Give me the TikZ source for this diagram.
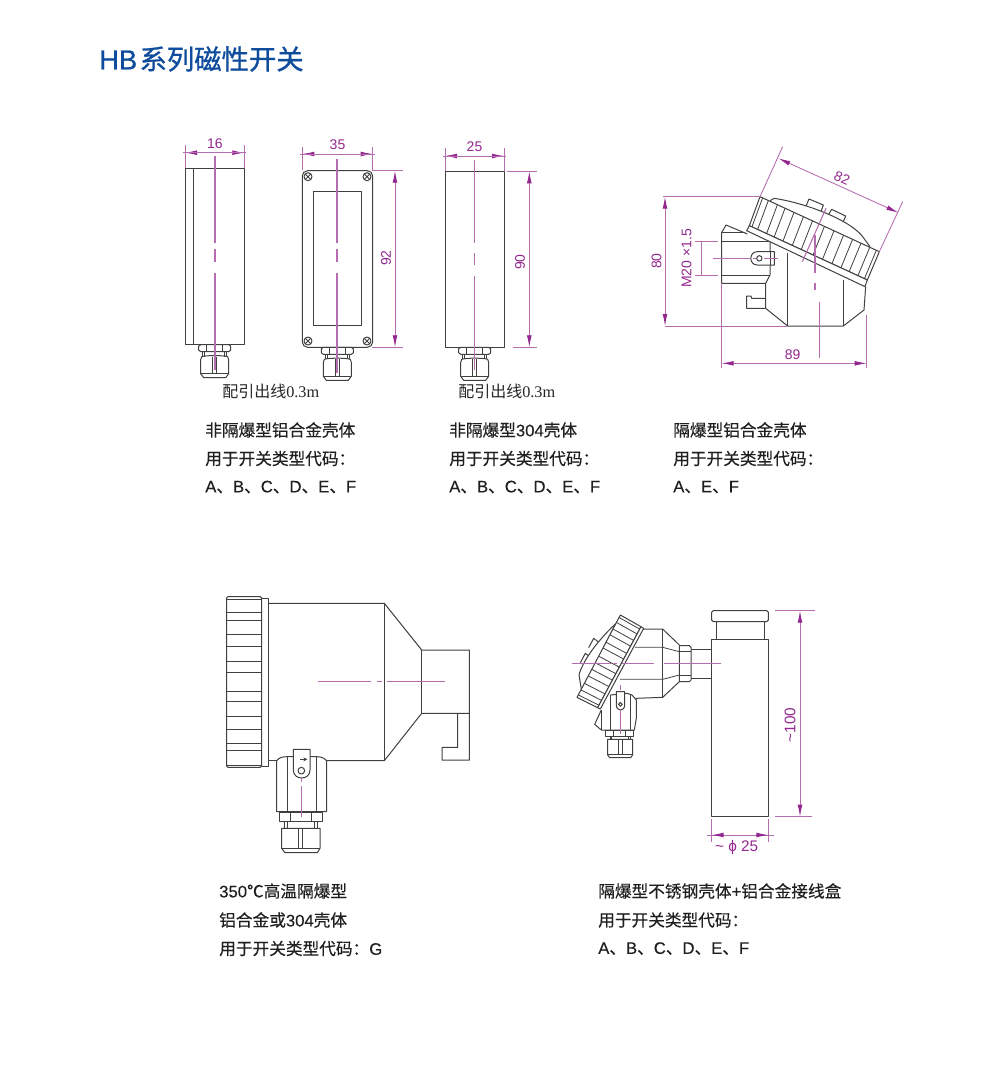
\documentclass[tikz,border=0pt]{standalone}
\usepackage{fontspec}
\setmainfont{Liberation Sans}
\newfontfamily\cjk{Noto Sans CJK SC}
\newfontfamily\cjkm[RawFeature={embolden=0.3}]{Noto Sans CJK SC}
\newfontfamily\cjkt[RawFeature={embolden=1.0}]{Noto Sans CJK SC}
\newfontfamily\latt[RawFeature={embolden=0.8}]{Liberation Sans}
\newfontfamily\latm[RawFeature={embolden=0.3}]{Liberation Sans}
\newfontfamily\srf{Liberation Serif}
\newcommand{\La}[1]{{\latm #1}}
\usetikzlibrary{arrows.meta,calc}
\definecolor{dimtext}{HTML}{93278F}
\definecolor{dimline}{HTML}{B66DB0}
\definecolor{titleblue}{HTML}{0F4C9C}
\definecolor{part}{HTML}{404040}
\tikzset{
  partline/.style={draw=part,line width=0.75pt,line join=round},
  thinpart/.style={draw=part,line width=0.6pt},
  centre/.style={draw=dimline,line width=0.8pt},
  extline/.style={draw=dimline,line width=0.65pt},
  dimarrow/.style={draw=dimline,line width=0.65pt,{Latex[length=9pt,width=3.6pt,color=dimtext]}-{Latex[length=9pt,width=3.6pt,color=dimtext]}},
  dimlabel/.style={text=dimtext,font=\fontsize{10.5}{12}\selectfont,inner sep=0pt},
  body/.style={anchor=west,inner sep=0pt,text=black!88,font=\cjkm\fontsize{12.5}{14}\selectfont},
  note/.style={anchor=west,inner sep=0pt,text=black!85},
  zoomed/.style={x=0.25pt,y=-0.25pt},
}
% cable gland: #1 centre x, #2 top y, in pixels
\newcommand{\gland}[2]{%
  \begin{scope}[shift={(#1,#2)}]
    \draw[partline] (-16,1.5) -- (-14,0) -- (14,0) -- (16,1.5) -- (16,5.5) -- (14,7) -- (-14,7) -- (-16,5.5) -- cycle;
    \draw[thinpart] (-8,0) -- (-8,7) (8,0) -- (8,7);
    \draw[thinpart] (-12,7) -- (-12,12) (12,7) -- (12,12) (-10,7) -- (-10,12) (10,7) -- (10,12);
    \draw[partline] (-13,12) .. controls (-9,10.5) and (9,10.5) .. (13,12) -- (14,15) -- (14,29) -- (11,33) -- (-11,33) -- (-14,29) -- (-14,15) -- cycle;
    \draw[thinpart] (-14,29) -- (14,29) (-2,12) -- (-2,29) (2,12) -- (2,29);
  \end{scope}}
\begin{document}
\begin{tikzpicture}[x=0.75pt,y=-0.75pt]
\useasboundingbox (0,0) rectangle (1000,1083);
\node[anchor=west,inner sep=0pt,text=titleblue] (title) at (99,59) {\fontsize{20.5}{24}\selectfont\latt HB\kern1.8pt\cjkt 系列磁性开关};

% ---- view 1
\draw[partline] (185,168.3) rectangle (244.3,344.7);
\draw[partline] (193.3,168.3) -- (193.3,344.7);
\gland{214.7}{344.7}
\draw[centre] (215,156) -- (215,243) (215,249) -- (215,262) (215,273) -- (215,370);
\draw[extline] (185,145) -- (185,168) (244.3,145) -- (244.3,168);
\draw[dimarrow] (185,152.7) -- (244.3,152.7);
\draw[extline] (183,152.7) -- (246,152.7);
\node[dimlabel] (d16) at (215,144) {16};

% ---- view 2
\draw[partline,rounded corners=4pt] (302.3,170.7) rectangle (372.7,347.3);
\draw[partline] (313.7,191.7) rectangle (361,325.3);
\foreach \sx/\sy in {308/176.7,367/176.7,308/341,367/341}{
  \draw[partline] (\sx,\sy) circle[radius=3pt];
  \draw[thinpart] (\sx-2.8,\sy-2.8) -- (\sx+2.8,\sy+2.8) (\sx-2.8,\sy+2.8) -- (\sx+2.8,\sy-2.8);
}
\gland{337.3}{347.3}
\draw[centre] (337,159) -- (337,243) (337,249) -- (337,262) (337,273) -- (337,373);
\draw[extline] (302.3,147) -- (302.3,170) (372.7,147) -- (372.7,170);
\draw[dimarrow] (302.3,154) -- (372.7,154);
\draw[extline] (300,154) -- (375,154);
\node[dimlabel] (d35) at (337.5,145) {35};
\draw[extline] (372,170.7) -- (403,170.7) (372,347.3) -- (403,347.3);
\draw[dimarrow] (395,170.7) -- (395,347.3);
\node[dimlabel,rotate=90] (d92) at (386,258) {92};

% ---- view 3
\draw[partline] (445,171.3) rectangle (504,347.3);
\gland{474.7}{347.3}
\draw[centre] (474.7,160) -- (474.7,243) (474.7,253) -- (474.7,265) (474.7,276) -- (474.7,370);
\draw[extline] (445,148) -- (445,171) (504,148) -- (504,171);
\draw[dimarrow] (445,156) -- (504,156);
\draw[extline] (443,156) -- (506,156);
\node[dimlabel] (d25) at (474.5,147) {25};
\draw[extline] (507,171.3) -- (537,171.3) (513,347.3) -- (537,347.3);
\draw[dimarrow] (529.3,171.3) -- (529.3,347.3);
\node[dimlabel,rotate=90] (d90) at (520,262) {90};

\node[note] (lead1) at (222,391.5) {\cjk\fontsize{12}{14}\selectfont 配引出线\srf\fontsize{12.2}{14}\selectfont 0.3m};
\node[note] (lead2) at (458,391.5) {\cjk\fontsize{12}{14}\selectfont 配引出线\srf\fontsize{12.2}{14}\selectfont 0.3m};

% ---- view 4 (tilted head)
\begin{scope}[shift={(640,140)},zoomed]
  % lower body
  \draw[partline] (377,505) -- (443,558) -- (610,558) -- (672,510) -- (677,440);
  \draw[partline] (443,558) -- (443,340) (610,558) -- (610,420);
  % left connector
  \draw[partline] (322,282) -- (258,255) -- (245,278) -- (245,430) -- (377,430) -- (377,505);
  \draw[partline] (245,278) -- (315,278);
  \draw[partline] (377,430) -- (390,405) -- (390,305);
  \draw[thinpart] (245,305) -- (390,305) (245,405) -- (390,405);
  \draw[partline,fill=white] (403,335) -- (352,335) .. controls (326,335) and (326,375) .. (352,375) -- (403,375) -- cycle;
  \draw[thinpart] (390,335) -- (390,375);
  \draw[partline] (358,355) circle[radius=2pt];
  \draw[partline] (377,475) -- (335,475) -- (333,468) -- (320,468) -- (320,505) -- (377,505);
  % dome and bosses
  \draw[partline,fill=white] (497,200) -- (507,177) -- (550,195) -- (543,215);
  \draw[partline,fill=white] (565,225) -- (575,208) -- (617,228) -- (608,250);
  \draw[partline,fill=white] (390,182) -- (403,175) .. controls (500,190) and (630,240) .. (668,290) -- (690,320);
  % ring and flange
  \draw[partline,fill=white] (360,170) -- (718,335) -- (682,420) -- (328,257) -- cycle;
  \draw[partline,fill=white] (328,257) -- (682,420) -- (675,440) -- (320,272) -- cycle;
  \foreach \t in {0.022,0.07,0.146,0.21,0.285,0.364,0.44,0.54,0.62,0.70,0.776,0.846,0.92,0.975}
    \draw[thinpart] ($(360,170)!\t!(718,335)$) -- ($(328,257)!\t!(682,420)$);
  % centre lines
  \draw[centre] (220,355) -- (330,355) (338,355) -- (347,355) (372,355) -- (415,355);
  \draw[centre] (558,205) -- (487,365);
  \draw[centre] (525,285) -- (525,400) (525,430) -- (525,450) (538,485) -- (538,655);
  % dimensions
  \draw[extline] (428,20) -- (360,170) (788,185) -- (718,335);
  \draw[dimarrow] (415,55) -- (775,218);
  \node[dimlabel,rotate=-24] (d82) at (606,115) {82};
  \draw[extline] (70,170) -- (357,170) (75,558) -- (440,558);
  \draw[dimarrow] (75,170) -- (75,558);
  \node[dimlabel,rotate=90] (d80) at (50,363) {80};
  \draw[extline] (165,305) -- (235,305) (165,405) -- (235,405);
  \draw[extline] (185,305) -- (185,405);
  \node[dimlabel,rotate=90] (dm20) at (140,355) {M20 ×1.5};
  \draw[extline] (245,430) -- (245,685) (680,525) -- (680,685);
  \draw[dimarrow] (245,670) -- (680,670);
  \node[dimlabel] (d89) at (458,643) {89};
\end{scope}

\foreach \tx/\a/\b/\c in {205/非隔爆型铝合金壳体/用于开关类型代码：/\La{A}、\La{B}、\La{C}、\La{D}、\La{E}、\La{F},449/非隔爆型\La{304}壳体/用于开关类型代码：/\La{A}、\La{B}、\La{C}、\La{D}、\La{E}、\La{F},673/隔爆型铝合金壳体/用于开关类型代码：/\La{A}、\La{E}、\La{F}}{
  \node[body] at (\tx,430) {\a};
  \node[body] at (\tx,458.5) {\b};
  \node[body] at (\tx,487) {\c};
}

% ---- view 5 (high-temperature)
\begin{scope}[shift={(210,585)},zoomed]
  \draw[partline,rounded corners=1pt] (50,35) rectangle (155,547);
  \foreach \ry in {42,82,105,148,185,230,262,318,350,395,432,475,497,540}
    \draw[thinpart] (50,\ry) -- (155,\ry);
  \draw[partline] (155,40) -- (175,40) -- (175,543) -- (155,543);
  \draw[partline] (175,55) -- (523,55) -- (635,195) -- (778,195) -- (778,525) -- (696,525) -- (696,487) -- (743,487) -- (743,385);
  \draw[partline] (778,385) -- (635,385) -- (523,527) -- (350,527);
  \draw[partline] (175,527) -- (200,527);
  \draw[partline] (523,55) -- (523,527) (635,195) -- (635,385);
  \draw[partline] (350,527) .. controls (340,518) and (335,515) .. (318,515) -- (232,515) .. controls (215,515) and (208,518) .. (200,527) -- (200,680) -- (350,680) -- cycle;
  \draw[partline] (232,515) -- (232,680) (318,515) -- (318,680);
  \draw[partline,fill=white] (250,493) -- (300,493) -- (300,555) .. controls (300,587) and (250,587) .. (250,555) -- cycle;
  \draw[partline] (274,557) circle[radius=2.5pt];
  \draw[partline,-{Stealth[length=3pt,width=3pt]}] (270,523) -- (292,523);
  \draw[partline] (208,682) rectangle (338,708);
  \draw[thinpart] (240,682) -- (240,708) (305,682) -- (305,708);
  \draw[thinpart] (222,708) -- (222,730) (232,708) -- (232,730) (312,708) -- (312,730) (322,708) -- (322,730);
  \draw[partline] (215,730) -- (330,730) -- (330,790) -- (322,803) -- (225,803) -- (215,790) -- cycle;
  \draw[thinpart] (215,790) -- (330,790) (265,730) -- (265,790) (277,730) -- (277,790);
  \draw[centre] (323,290) -- (483,290) (500,290) -- (516,290) (532,290) -- (705,290);
  \draw[centre] (274,578) -- (274,590) (274,603) -- (274,695);
\end{scope}

% ---- view 6 (stainless tube)
\begin{scope}[shift={(565,595)},zoomed]
  \draw[partline] (440,133) rectangle (610,665);
  \draw[partline,rounded corners=1.2pt] (440,47) rectangle (610,80);
  \draw[partline] (453,80) -- (453,133) (598,80) -- (598,133);
  \draw[partline] (378,163) -- (440,163) (378,250) -- (440,250);
  \draw[partline] (343,152) -- (373,152) -- (378,157) -- (378,255) -- (373,260) -- (343,260) -- cycle;
  \draw[thinpart] (343,170) -- (378,170) (343,240) -- (378,240);
  \draw[partline] (232,102) -- (293,102) -- (343,150) (212,310) -- (293,307) -- (343,260);
  \draw[partline] (293,102) -- (293,307);
  \draw[thinpart] (210,157) -- (293,157) -- (343,170) (165,253) -- (293,253) -- (343,240);
  % connector box
  \draw[partline] (109,345) -- (89,388) -- (109,405) -- (208,405) -- (214,370) -- (214,315) -- (201,300) -- (186,295) -- (136,300);
  \draw[partline] (109,405) -- (109,345);
  \draw[thinpart] (136,300) -- (136,405) (196,298) -- (196,405);
  \draw[partline,fill=white] (154,290) -- (179,290) -- (179,330) .. controls (179,350) and (154,350) .. (154,330) -- cycle;
  \draw[partline] (166,328) circle[radius=1.4pt];
  \draw[partline] (121,407) rectangle (206,425);
  \draw[thinpart] (145,407) -- (145,425) (182,407) -- (182,425);
  \draw[thinpart] (135,425) -- (135,433) (140,425) -- (140,433) (190,425) -- (190,433) (195,425) -- (195,433);
  \draw[partline] (128,433) -- (203,433) -- (203,480) -- (197,488) -- (134,488) -- (128,480) -- cycle;
  \draw[thinpart] (128,478) -- (203,478) (160,433) -- (160,478) (172,433) -- (172,478);
  % bosses and dome
  \draw[partline,fill=white] (71,158) -- (86,130) -- (106,145) -- (92,172);
  \draw[partline,fill=white] (46,203) -- (61,175) -- (81,190) -- (67,218);
  \draw[partline,fill=white] (153,85) .. controls (110,125) and (55,190) .. (42,240) -- (50,288) -- cycle;
  % ring
  \draw[partline,fill=white] (166,60) -- (228,95) -- (98,338) -- (36,307) -- cycle;
  \draw[partline,fill=white] (228,95) -- (236,100) -- (106,342) -- (98,338) -- cycle;
  \foreach \t in {0.03,0.09,0.17,0.24,0.33,0.4,0.5,0.58,0.66,0.74,0.83,0.91,0.97}
    \draw[thinpart] ($(166,60)!\t!(36,307)$) -- ($(228,95)!\t!(98,338)$);
  % centre lines
  \draw[centre] (21,206) -- (139,206) (146,206) -- (156,206) (171,206) -- (266,206) (298,206) -- (468,206);
  \draw[centre] (166,270) -- (166,285) (166,345) -- (166,418);
  % dimensions
  \draw[extline] (630,47) -- (750,47) (630,663) -- (742,663);
  \draw[dimarrow] (705,47) -- (705,665);
  \node[dimlabel,rotate=90,font=\fontsize{11.5}{13}\selectfont] (d100) at (675,390) {\textasciitilde 100};
  \draw[extline] (440,672) -- (440,742) (610,672) -- (610,742) (425,720) -- (628,720);
  \draw[dimarrow] (440,720) -- (610,720);
  \node[dimlabel,font=\fontsize{11.5}{13}\selectfont] (dphi) at (515,757) {\textasciitilde\ ϕ 25};
\end{scope}

\node[body] at (219,891) {\La{350}℃高温隔爆型};
\node[body] at (219,920) {铝合金或\La{304}壳体};
\node[body] at (219,948.5) {用于开关类型代码：\La{G}};
\node[body] at (598,891) {隔爆型不锈钢壳体\La{+}铝合金接线盒};
\node[body] at (598,920) {用于开关类型代码：};
\node[body] at (598,948.5) {\La{A}、\La{B}、\La{C}、\La{D}、\La{E}、\La{F}};
\end{tikzpicture}
\end{document}
